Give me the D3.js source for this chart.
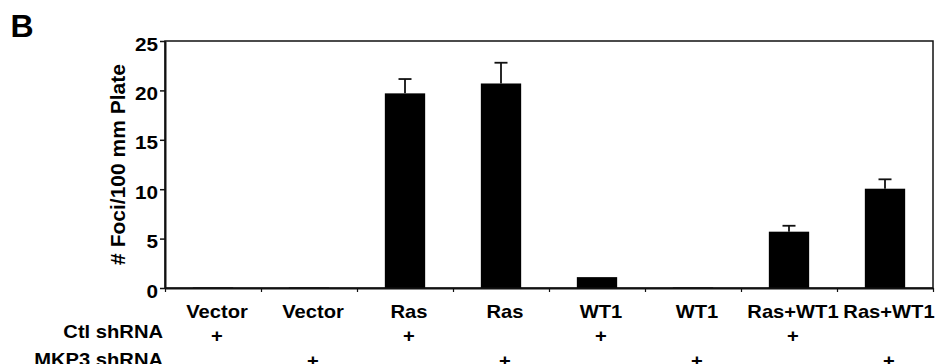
<!DOCTYPE html>
<html>
<head>
<meta charset="utf-8">
<script src="https://cdn.jsdelivr.net/npm/d3@7"></script>
<style>
  body { margin: 0; background: #fff; }
  svg text { font-family: Arial, "Liberation Sans", sans-serif; font-weight: bold; fill: #000; }
</style>
</head>
<body>
<div id="chart"></div>
<script>
// data
const categories = ["Vector", "Vector", "Ras", "Ras", "WT1", "WT1", "Ras+WT1", "Ras+WT1"]
const fociMeans = [0.05, 0.05, 19.7, 20.7, 1.1, 0.05, 5.7, 10.05]
const fociErrors = [0, 0, 1.45, 2.1, 0, 0, 0.6, 0.95]
const ctlShRNA = ["+", "", "+", "", "+", "", "+", ""]
const mkp3ShRNA = ["", "+", "", "+", "", "+", "", "+"]
const yTicks = [0, 5, 10, 15, 20, 25]

const width = 935, height = 364
const plot = { left: 165, right: 933, top: 41, bottom: 288 }
const stretch = 1.12   // text in the figure is a bit wider than it is tall

const svg = d3.select("#chart").append("svg")
  .attr("width", width)
  .attr("height", height)

const x = d3.scaleBand()
  .domain(d3.range(categories.length))
  .range([plot.left, plot.right])

const xEdges = d3.scaleLinear()
  .domain([0, categories.length])
  .range([plot.left, plot.right])

const y = d3.scaleLinear()
  .domain([0, 25])
  .range([plot.bottom, plot.top])

// frame (top + right)
svg.append("rect")
  .attr("x", plot.left)
  .attr("y", plot.top)
  .attr("width", plot.right - plot.left)
  .attr("height", plot.bottom - plot.top)
  .attr("fill", "none")
  .attr("stroke", "#111")
  .attr("stroke-width", 1.5)

// bars
const barW = x.bandwidth() * 0.42
svg.append("g")
  .selectAll("rect")
  .data(fociMeans)
  .join("rect")
  .attr("x", (d, i) => x(i) + x.bandwidth() / 2 - barW / 2)
  .attr("y", d => y(d))
  .attr("width", barW)
  .attr("height", d => y(0) - y(d))
  .attr("fill", "#000")

// error bars (upper only)
const err = svg.append("g")
  .attr("stroke", "#111")
  .attr("stroke-width", 1.8)
const capW = 13
fociMeans.forEach((m, i) => {
  if (!fociErrors[i]) return
  const cx = x(i) + x.bandwidth() / 2
  err.append("line")
    .attr("x1", cx).attr("x2", cx)
    .attr("y1", y(m)).attr("y2", y(m + fociErrors[i]))
  err.append("line")
    .attr("x1", cx - capW / 2).attr("x2", cx + capW / 2)
    .attr("y1", y(m + fociErrors[i])).attr("y2", y(m + fociErrors[i]))
})

// y axis
const yAxis = svg.append("g")
  .attr("transform", `translate(${plot.left},0)`)
  .call(d3.axisLeft(y).tickValues(yTicks).tickSize(5).tickSizeOuter(0).tickPadding(1))
yAxis.select(".domain").attr("stroke", "#111").attr("stroke-width", 2)
yAxis.selectAll(".tick line").attr("stroke", "#111").attr("stroke-width", 1.5)
yAxis.selectAll(".tick text")
  .attr("font-size", 18)
  .attr("dy", "0.5em")
  .attr("transform", `scale(${stretch + 0.03},1)`)

// x axis (category boundaries)
const xAxis = svg.append("g")
  .attr("transform", `translate(0,${plot.bottom})`)
  .call(d3.axisBottom(xEdges).ticks(categories.length).tickSize(4).tickSizeOuter(0).tickFormat(""))
xAxis.select(".domain").attr("stroke", "#111").attr("stroke-width", 2)
xAxis.selectAll(".tick line").attr("stroke", "#111").attr("stroke-width", 1.2)

// category labels and shRNA rows
const labelOffset = 4
const rows = [
  { values: categories, baseline: 317.5 },
  { values: ctlShRNA, baseline: 341.5 },
  { values: mkp3ShRNA, baseline: 366.5 }
]
rows.forEach(row => {
  svg.append("g")
    .selectAll("text")
    .data(row.values)
    .join("text")
    .attr("transform", (d, i) =>
      `translate(${x(i) + x.bandwidth() / 2 + labelOffset},${row.baseline}) scale(${stretch},1)`)
    .attr("text-anchor", "middle")
    .attr("font-size", 18)
    .text(d => d)
})

const rowLabels = [["Ctl shRNA", 337.5], ["MKP3 shRNA", 365.5]]
svg.append("g")
  .selectAll("text")
  .data(rowLabels)
  .join("text")
  .attr("transform", d => `translate(163,${d[1]}) scale(${stretch},1)`)
  .attr("text-anchor", "end")
  .attr("font-size", 18)
  .text(d => d[0])

// y label
svg.append("text")
  .attr("transform", "translate(125,164.5) rotate(-90)")
  .attr("text-anchor", "middle")
  .attr("font-size", 21)
  .text("# Foci/100 mm Plate")

// panel letter
svg.append("text")
  .attr("x", 10.5)
  .attr("y", 36.7)
  .attr("font-size", 32)
  .text("B")
</script>
</body>
</html>
